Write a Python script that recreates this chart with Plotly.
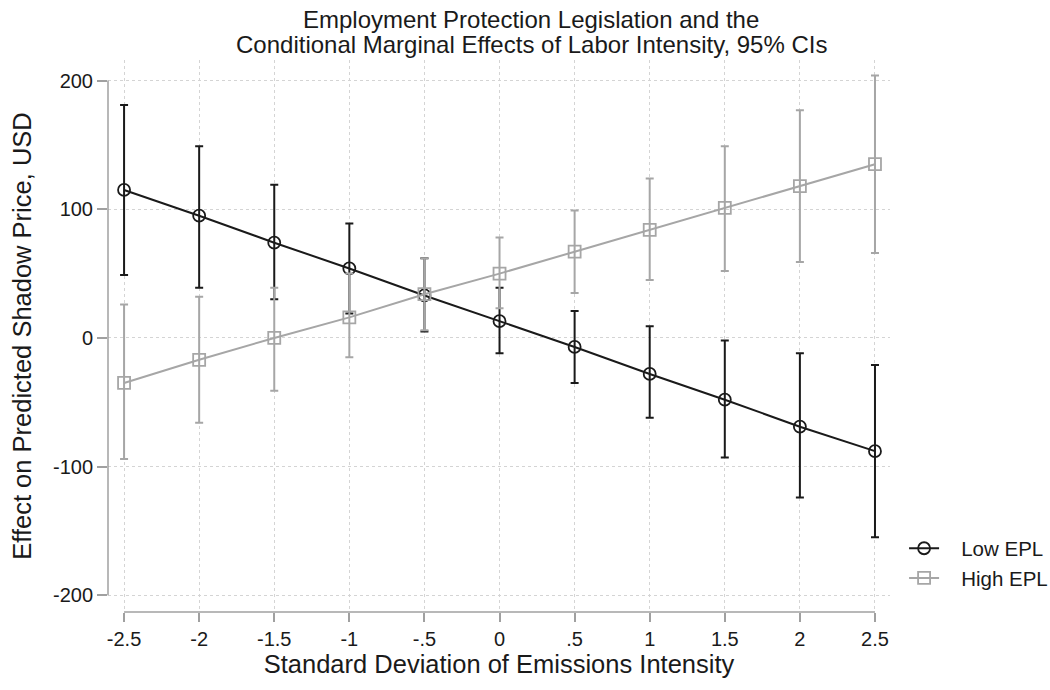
import plotly.graph_objects as go

x_vals = [-2.5, -2.0, -1.5, -1.0, -0.5, 0.0, 0.5, 1.0, 1.5, 2.0, 2.5]
x_ticktext = ["-2.5", "-2", "-1.5", "-1", "-.5", "0", ".5", "1", "1.5", "2", "2.5"]

low_est = [115, 95, 74, 54, 33, 13, -7, -28, -48, -69, -88]
low_upper = [181, 149, 119, 89, 62, 39, 21, 9, -2, -12, -21]
low_lower = [49, 39, 30, 19, 5, -12, -35, -62, -93, -124, -155]

high_est = [-35, -17, 0, 16, 34, 50, 67, 84, 101, 118, 135]
high_upper = [26, 32, 39, 50, 62, 78, 99, 124, 149, 177, 204]
high_lower = [-94, -66, -41, -15, 6, 23, 35, 45, 52, 59, 66]

y_ticks = [-200, -100, 0, 100, 200]
y_ticktext = ["-200", "-100", "0", "100", "200"]

series_names = ["Low EPL", "High EPL"]
title_lines = ["Employment Protection Legislation and the",
               "Conditional Marginal Effects of Labor Intensity, 95% CIs"]

FONT = "Liberation Sans, Arial, sans-serif"
BLACK = "#1a1a1a"
GRAY = "#a6a6a6"
TXT = "#1a1a1a"
PAD = "\u00a0\u00a0\u00a0"

def trace(name, est, upper, lower, color, symbol):
    return go.Scatter(
        x=x_vals, y=est, name=PAD + name, mode="lines+markers",
        line=dict(color=color, width=2),
        marker=dict(symbol=symbol, size=12, color=color,
                    line=dict(color=color, width=1.8)),
        error_y=dict(type="data", symmetric=False,
                     array=[u - e for u, e in zip(upper, est)],
                     arrayminus=[e - l for e, l in zip(est, lower)],
                     color=color, thickness=2, width=4),
    )

fig = go.Figure()
fig.add_trace(trace(series_names[0], low_est, low_upper, low_lower, BLACK, "circle-open"))
fig.add_trace(trace(series_names[1], high_est, high_upper, high_lower, GRAY, "square-open"))

fig.update_layout(
    width=1050, height=690,
    margin=dict(l=108, r=160, t=60, b=78, autoexpand=False),
    paper_bgcolor="white", plot_bgcolor="white",
    font=dict(family=FONT, color=TXT),
    showlegend=True,
    legend=dict(x=1.018, xanchor="left", y=0.088, yanchor="middle",
                font=dict(size=20.5, family=FONT, color=TXT), bgcolor="rgba(0,0,0,0)",
                itemwidth=30, tracegroupgap=0),
    xaxis=dict(
        range=[-2.607, 2.6], tickvals=x_vals, ticktext=x_ticktext,
        showgrid=True, gridcolor="#d4d4d4", griddash="dot", gridwidth=1,
        zeroline=False, showline=False,
        ticks="outside", ticklen=9, tickcolor="#a0a0a0", tickwidth=1.5,
        tickfont=dict(size=20, family=FONT, color=TXT),
        title=dict(text="Standard Deviation of Emissions Intensity",
                   font=dict(size=25.5, family=FONT, color=TXT), standoff=5),
    ),
    yaxis=dict(
        range=[-213, 216], tickvals=y_ticks, ticktext=y_ticktext,
        showgrid=True, gridcolor="#d4d4d4", griddash="dot", gridwidth=1,
        zeroline=False, showline=False,
        ticks="outside", ticklen=10, tickcolor="#a0a0a0", tickwidth=1.5,
        tickfont=dict(size=20, family=FONT, color=TXT),
        title=dict(text="Effect on Predicted Shadow Price, USD",
                   font=dict(size=25.5, family=FONT, color=TXT), standoff=14),
    ),
)

# Two-line title with tight Stata-like spacing
for line, ypix in zip(title_lines, [19, 44]):
    fig.add_annotation(text=line, xref="paper", yref="paper",
                       x=(531 - 108) / 782, y=(612 - ypix) / 552,
                       xanchor="center", yanchor="middle", showarrow=False,
                       font=dict(size=24, family=FONT, color=TXT))

# Stata-style axis lines spanning only the tick range
fig.add_shape(type="line", xref="paper", yref="y", x0=0, x1=0,
              y0=min(y_ticks), y1=max(y_ticks),
              line=dict(color="#a0a0a0", width=1.5), layer="above")
fig.add_shape(type="line", xref="x", yref="paper", x0=min(x_vals), x1=max(x_vals),
              y0=0, y1=0, line=dict(color="#a0a0a0", width=1.5), layer="above")

fig.write_html("out.html")
